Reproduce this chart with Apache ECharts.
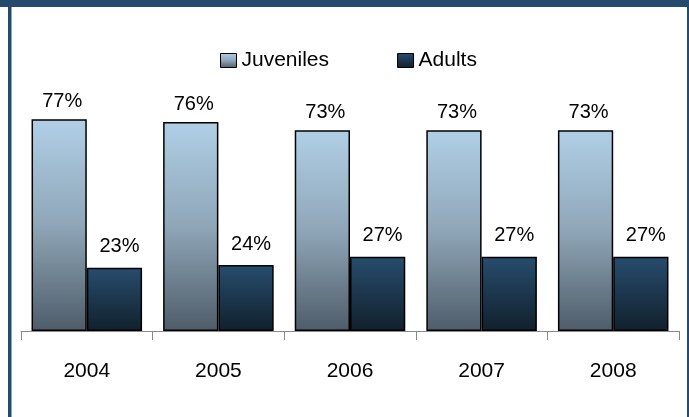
<!DOCTYPE html>
<html>
<head>
<meta charset="utf-8">
<script src="https://cdn.jsdelivr.net/npm/echarts@6/dist/echarts.min.js"></script>
<style>
html,body{margin:0;padding:0;background:#fff;}
#chart{width:689px;height:417px;}
</style>
</head>
<body>
<div id="chart"></div>
<script>
var categories = ['2004', '2005', '2006', '2007', '2008'];
var juveniles = [77, 76, 73, 73, 73];
var adults = [23, 24, 27, 27, 27];
var seriesNames = ['Juveniles', 'Adults'];

var FONT = '"Liberation Sans", Arial, sans-serif';
var juvGrad = new echarts.graphic.LinearGradient(0, 0, 0, 1, [
  {offset: 0, color: '#B0CFE6'},
  {offset: 0.5, color: '#8FA6B8'},
  {offset: 1, color: '#4E5C69'}
]);
var adGrad = new echarts.graphic.LinearGradient(0, 0, 0, 1, [
  {offset: 0, color: '#274D6E'},
  {offset: 1, color: '#11202C'}
]);
var frame = '#244B6D';

var chart = echarts.init(document.getElementById('chart'), null, {renderer: 'canvas'});
chart.setOption({
  backgroundColor: '#ffffff',
  animation: false,
  graphic: [
    {type: 'rect', left: 0, top: 0, shape: {width: 689, height: 7}, style: {fill: frame}, z: 100},
    {type: 'rect', left: 8, top: 0, shape: {width: 3.5, height: 417}, style: {fill: frame}, z: 100},
    {type: 'rect', left: 687, top: 0, shape: {width: 2, height: 417}, style: {fill: frame}, z: 100}
  ],
  legend: {
    data: seriesNames,
    left: 215,
    top: 45,
    itemWidth: 16,
    itemHeight: 14,
    itemGap: 68,
    icon: 'rect',
    textStyle: {fontFamily: FONT, fontSize: 21, color: '#000'},
    itemStyle: {borderColor: '#000', borderWidth: 1}
  },
  grid: {left: 21, right: 10, top: 56, bottom: 86, containLabel: false},
  xAxis: {
    type: 'category',
    data: categories,
    axisLine: {show: true, lineStyle: {color: '#8a8a8a', width: 1}},
    axisTick: {show: true, length: 9, lineStyle: {color: '#8a8a8a'}},
    axisLabel: {fontFamily: FONT, fontSize: 21, color: '#000', margin: 30}
  },
  yAxis: {
    type: 'value',
    min: 0,
    max: 100,
    show: false,
    splitLine: {show: false}
  },
  series: [
    {
      name: seriesNames[0],
      type: 'bar',
      data: juveniles,
      barGap: '0%',
      barCategoryGap: '16%',
      itemStyle: {color: juvGrad, borderColor: '#000', borderWidth: 1.5},
      label: {show: true, position: 'top', distance: 8, offset: [3, 0], formatter: '{c}%',
        fontFamily: FONT, fontSize: 20, color: '#000'}
    },
    {
      name: seriesNames[1],
      type: 'bar',
      data: adults,
      itemStyle: {color: adGrad, borderColor: '#000', borderWidth: 1.5},
      label: {show: true, position: 'top', distance: 11, offset: [5, 0], formatter: '{c}%',
        fontFamily: FONT, fontSize: 20, color: '#000'}
    }
  ]
});
</script>
</body>
</html>
